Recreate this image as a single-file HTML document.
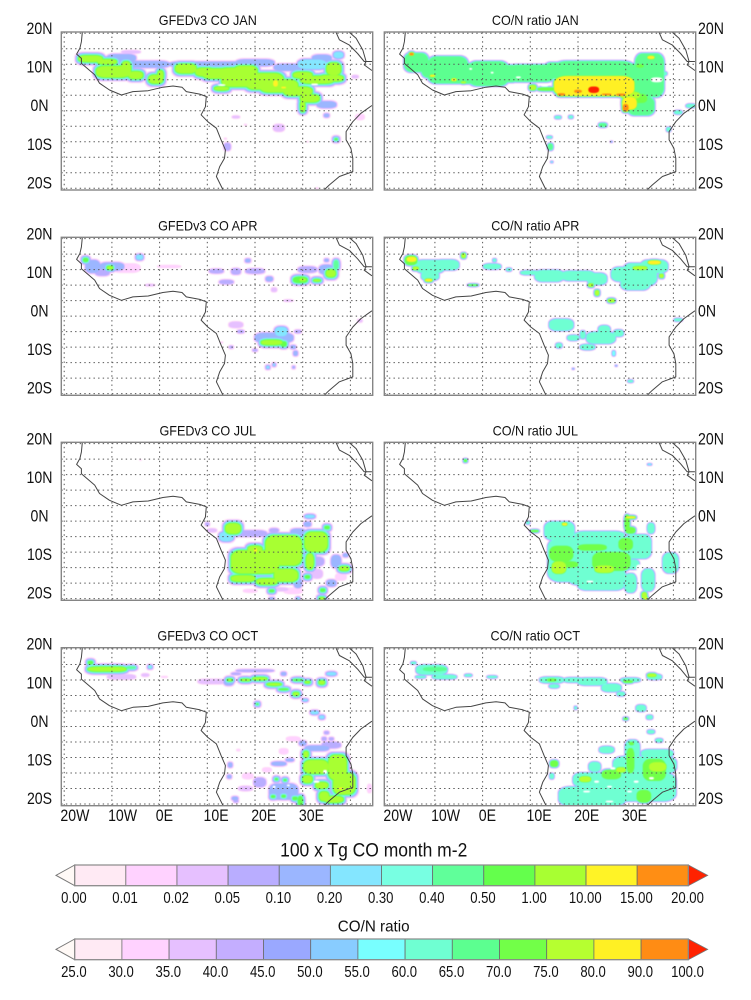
<!DOCTYPE html>
<html lang="en">
<head>
<meta charset="utf-8">
<title>GFEDv3 CO and CO/N ratio over Africa</title>
<style>
html,body{margin:0;padding:0;background:#fff;width:751px;height:1000px;overflow:hidden}
svg{display:block;filter:blur(0.35px)}
text{font-family:"Liberation Sans",sans-serif;fill:#111}
</style>
</head>
<body>
<svg id="chart" xmlns="http://www.w3.org/2000/svg" width="751" height="1000" viewBox="0 0 751 1000"></svg>
<script>
// ---- colour-scale data ----
const coLevels = [0,0.01,0.02,0.05,0.1,0.2,0.3,0.4,0.5,1,10,15,20];
const ratioLevels = [25,30,35,40,45,50,55,60,65,70,75,80,90,100];
const coLabels = ["0.00","0.01","0.02","0.05","0.10","0.20","0.30","0.40","0.50","1.00","10.00","15.00","20.00"];
const ratioLabels = ["25.0","30.0","35.0","40.0","45.0","50.0","55.0","60.0","65.0","70.0","75.0","80.0","90.0","100.0"];
const coColors = ["#ffeaf4","#ffd2ff","#e6c0ff","#b9adff","#9bb6ff","#84e6ff","#78ffe2","#60ff9a","#64ff4c","#a8ff32","#fff326","#ff8e14","#ff2200"];
const ratioColors = ["#ffeaf4","#ffd2ff","#e6c0ff","#c4aeff","#9aa8ff","#88ccff","#78ffff","#6fffd2","#5cff90","#72ff48","#b6ff30","#fff024","#ff8c14","#ff2200"];

// ---- axis data ----
const gridLons = [-20,-10,0,10,20,30,40];
const gridLats = [20,15,10,5,0,-5,-10,-15,-20,-25,-30];
const latTickLabels = ["20N","10N","0N","10S","20S"];
const lonTickLabels = ["20W","10W","0E","10E","20E","30E"];
const lonTickValues = [-20,-10,0,10,20,30];

// ---- coastlines [lon, lat] ----
const westCoast = [[-16.2,20.3],[-16.4,17.3],[-16.7,15.2],[-17.4,13.3],[-16.4,11.9],[-16.4,10.3],[-15.2,8.7],[-13.6,6.6],[-12.6,3.9],[-10.5,1.7],[-8,0.1],[-5.6,1.2],[-2.4,1.5],[0.7,2.6],[2.8,3],[4.7,2.6],[5.6,1.2],[8.4,0.4],[9.8,-0.4],[9.6,-3.7],[8.7,-6.3],[10.1,-8.5],[11.9,-10.6],[12.9,-14.4],[13.8,-17.6],[13.6,-20.3],[12.6,-23],[11.9,-26.2],[13.3,-30.5]];
const eastCoast = [[44.5,-3.3],[42.2,-5.8],[40.5,-8.5],[39.1,-11.7],[39.1,-14.4],[40.1,-17.1],[40.5,-20.3],[40.5,-24.6],[37.7,-26.2],[35.6,-28.9],[34.5,-30.5]];
const redSeaWest = [[37,20.3],[37.7,17.9],[39.8,16.2],[41.5,13.5],[42.9,10.9],[44.5,10.9]];
const redSeaEast = [[39.8,20.3],[41.2,18.4],[42.6,14.6],[43.3,10.9],[42.9,9.8],[44.5,8]];

// ---- fields: plume patches [lon, lat, lonExtent, latExtent, value] ----
const coJan = [[-14.5,11.8,2.5,1,5],[-11,10.8,2,0.8,1.5],[-9.8,7.6,3.5,1.8,5],[-7,8.5,1,2.4,5],[-5,6.5,1.5,1.2,5],[-0.8,5.2,1.5,1.4,5],[0.2,6.5,0.6,1.5,5],[5.5,8.6,2.2,1.5,5],[9.5,7.5,2,1.3,5],[12,7,3,1.6,5],[15.5,7,3,1.8,5],[17,5,4,2.2,5],[18,7.5,2.5,2,5],[22,4.5,4,2.6,5],[25,3,4,2,5],[29,1.3,3,1.4,5],[31.5,-1,2,1.2,5],[30,-3.5,0.5,1.8,5],[33,5,3.5,1.2,5],[36,5.5,2.5,1,5],[36.5,8.5,1.5,2,5],[30,6.5,2,1,5],[13,2.2,1.5,0.6,5],[24.3,3.8,0.5,1,12],[26,2.5,0.5,0.3,12],[-3,10,5,1,0.15],[-8,12,3,1.2,0.12],[-6,14,2,0.5,0.03],[10,10,8,0.8,0.15],[20,10.5,4,1,0.15],[27,9,3,1,0.12],[32,10,3,1.5,0.2],[37.5,13,1,1,0.2],[34,12,2,1,0.15],[35,-3,2,1,0.12],[35,-6.5,0.5,0.5,0.1],[38,7,0.5,0.5,0.03],[41,6,0.7,0.5,0.02],[16,-7,0.8,0.4,0.02],[18,-9.5,0.3,0.3,0.01],[25,-10.5,1.2,1.2,0.02],[14.2,-16.6,0.7,1.2,0.05],[13.8,-14,0.3,0.3,0.01],[37,-14.2,0.3,0.3,0.5],[42,-7,1,1,0.01],[31,-15,0.2,0.2,0.01],[33,-30,0.3,0.3,0.01],[13,3.3,0.8,0.3,-1],[32.5,3.5,0.7,0.3,-1]];
const ratioJan = [[-13.9,10.6,2.5,3,67],[-7.3,8.2,4.2,4.3,67],[1.2,7,4.2,3.9,67],[10.2,7.1,4.9,2.7,67],[23.4,8,8.4,3,67],[35,6.5,3,7,67],[33.2,-3.4,2.8,3,67],[36,12,1.2,1.5,67],[-10.8,8.5,2,2.8,67],[-3,7,2,3.2,67],[5.5,7,2,2.7,67],[15,8,2,2.5,67],[30.5,7.5,2.5,2.6,67],[32,2,1.8,2.8,67],[23.4,3,8.4,3.2,85],[31,0,2,1.2,78],[33,-1,1.5,1.5,72],[30.8,-2.6,1.5,2,85],[30,-4,0.6,1.2,95],[29,0.2,1,0.4,95],[23.3,1.8,1.1,1,105],[20,1.3,0.8,0.5,95],[16.5,0.3,0.8,0.4,95],[26,0.3,1,0.3,95],[10.5,2.5,0.7,0.8,75],[13.5,2,2,0.5,72],[-14.9,13.3,0.4,0.4,92],[-10.5,6.3,0.5,0.3,82],[-6,5,0.5,0.4,82],[-4,4.2,0.5,0.3,76],[35.3,12.2,0.7,0.5,80],[33,9.5,0.8,0.6,72],[43.7,-3.4,1,0.5,62],[41,-5.5,0.8,0.5,60],[15.8,-7.1,0.6,0.4,62],[18.5,-7,0.4,0.4,62],[25.2,-9.6,0.8,0.6,67],[14.2,-16.6,0.5,1,67],[14,-13.5,0.5,0.3,60],[39,-11,0.4,0.6,60],[34.5,-3,0.4,0.4,67],[38,7,0.6,0.5,60],[14.5,-21.5,0.2,0.2,55],[27,-15,0.2,0.2,50],[36.5,5,1.2,0.8,20],[-2.5,8.5,0.3,0.3,20],[2,7.3,0.3,0.3,20],[7.5,5.8,0.5,0.3,20],[13,3.2,0.8,0.4,20]];
const coApr = [[-15.5,13.1,0.5,0.6,0.6],[-14,11,1.5,2,0.15],[-10.4,10.6,0.6,0.5,5],[-10,11,2.5,1.2,0.1],[-12,9,1.5,1,0.07],[-4.2,14,0.7,0.8,0.25],[-7,10.5,3,1.5,0.015],[-2,5,1,0.3,0.02],[2,11,2.5,0.5,0.015],[11.9,9.5,1.5,0.7,0.07],[14,6,1.5,0.7,0.05],[16,9.4,1,1,0.05],[20,9.5,2,0.8,0.05],[18.5,12.9,0.5,0.5,0.15],[23,7,0.7,0.7,0.1],[24,3.5,0.6,0.7,0.03],[27,0,1,0.3,0.02],[29.5,6.7,1.5,1,0.6],[30,6.7,0.7,0.5,2],[33,6.5,0.7,0.3,1],[31,10,2,1,0.05],[35.9,8.8,1,1.2,5],[37,11.5,0.5,1.5,0.4],[35,10,1.5,1.5,0.1],[35,13,0.4,0.4,0.1],[16,-7.8,1.5,1,0.03],[17,-10,0.7,0.5,0.07],[23.5,-13.5,2.2,0.8,5],[26,-14,0.6,0.8,0.6],[25.5,-10,1.3,1.5,0.2],[24,-12,4,1.5,0.1],[29,-10,0.7,0.5,0.05],[28,-15,0.5,0.5,0.1],[15,-15,0.4,0.4,0.07],[20,-16,0.5,0.4,0.07],[28.5,-17,0.4,0.7,0.1],[22.7,-21.5,0.3,0.4,0.2],[24,-20.7,0.2,0.3,0.2],[28.1,-21.5,0.2,0.3,0.1],[42,-6.5,0.5,0.5,0.02],[13,-13.5,0.3,0.3,0.01]];
const ratioApr = [[-15,13,1.3,1.5,72],[-14.9,13.3,1,0.8,85],[-11,11,3,2,62],[-7.5,11.5,2.5,1.6,62],[-11,8,1.8,1.4,62],[-11.3,6.6,0.7,0.4,82],[-14,10.4,0.6,0.5,75],[-4,14.5,0.4,0.7,78],[-2,5,1,0.2,72],[2,11,1.8,0.8,62],[5.5,10,0.5,0.4,62],[2.5,13,0.3,0.4,60],[10,9,2,0.6,62],[14,8,3,1.8,62],[20,8,3.5,1.5,62],[24,7,2,1.8,62],[22.7,5,0.5,0.5,78],[24,2.5,0.4,0.8,78],[27,0,0.7,0.5,78],[30,8.5,3,2.2,62],[33,8.5,3.5,3.5,62],[32,5.5,3,2,62],[36,11,2.8,2,62],[36,12.3,1.3,0.6,82],[33,10.5,1.5,0.6,75],[37.5,8,0.4,0.6,75],[41,-6.2,0.8,0.4,62],[16.5,-7.8,2.5,1.8,62],[19,-12,1.2,0.8,62],[21,-11,0.5,1.2,62],[24.8,-12,3,1.8,62],[25.5,-9.5,1.2,1.4,62],[28.5,-10.5,1,1,62],[16,-14.5,0.6,0.7,62],[22,-15,1.5,0.8,62],[27.5,-17,0.3,0.8,55],[31,-26,0.5,0.3,60],[19,-22,0.2,0.2,50],[28,-21,0.2,0.2,50]];
const coJul = [[15.4,-7.4,1.6,1.7,5],[26,-14.5,3.8,4.8,5],[20,-18.2,5,3.7,5],[20,-14,1.5,1,5],[20.1,-14.4,0.3,0.7,12],[17.5,-23.5,2.5,1,5],[22.5,-24.5,2.2,1,5],[26.5,-22.5,2.5,2,5],[32.8,-11.7,2.4,3.2,5],[31.5,-18,0.8,2.5,5],[38.7,-20.3,1,0.7,5],[31,-23,0.5,0.5,0.6],[34.2,-27.3,0.5,0.5,0.6],[34,-30,0.5,0.4,5],[23.5,-27.5,0.5,0.4,0.5],[35.1,-7.1,0.5,0.5,0.6],[31.5,-3.5,1,0.5,0.2],[31,-6,0.7,0.7,0.1],[14,-10,1.5,1.5,0.2],[22,-21,3,1.5,0.1],[19,-9,3.5,1,0.05],[24,-8,1,0.7,0.07],[29,-8.5,1.5,1,0.1],[33,-18,1.5,1.5,0.07],[37,-18,1,2,0.1],[39,-16,0.5,0.5,0.1],[33,-22,1.2,1.5,0.03],[36,-25,1,1,0.1],[29,-25,0.8,1.5,0.1],[25,-27,2,0.6,0.03],[10,-6,0.4,0.5,0.05],[11,-8,1,0.6,0.02],[29,-30,0.3,0.3,0.2],[23.5,-30,0.5,0.3,0.1],[28,-27.5,2,1,0.015],[38,-23,1.2,1.2,0.012],[19,-27.5,1.5,0.6,0.012],[-4,14.7,0.2,0.2,0.012]];
const ratioJul = [[16.1,-8.1,3.1,2.9,62],[24.5,-9.7,5.2,1.3,62],[21.7,-17.5,8,7,62],[21.7,-12.5,7,2.2,62],[24,-23,6,2.5,62],[24.8,-25.5,4.8,1.7,62],[32.5,-13.2,2.8,3.8,62],[31,-25,1.2,3,62],[34.7,-24,1.3,3.5,62],[39.4,-18.5,1.6,3.2,62],[35.3,-7.3,0.7,1.6,62],[31.5,-19,1.3,1.5,62],[16.5,-15.5,2.5,2.5,72],[16,-20,1.5,2,78],[27,-18,4,3,72],[25.5,-20.5,2,1.2,78],[30,-12.5,1.5,2,72],[23,-13.5,3,1,72],[18,-19,2,1,72],[17.2,-6,0.5,0.4,85],[30.3,-5.5,0.5,2.5,72],[31,-3.8,1,0.3,85],[33.9,-29,0.5,1,78],[34.3,-30,0.3,0.3,85],[31,-8,1,1,72],[10.9,-8.2,0.8,0.3,72],[9.5,-5.5,0.3,0.4,62],[-3.6,14.5,0.3,0.4,72],[35,13.3,0.4,0.2,55],[33,-20,0.8,1,20],[22.5,-24.5,0.7,0.3,20]];
const coOct = [[-14.5,15.6,0.5,0.5,0.6],[-11,13.5,4,0.7,5],[-6,14,1,0.4,0.4],[-8,11,3,0.8,0.02],[-3,11.6,0.8,0.5,0.02],[-2,14.2,0.3,0.3,0.3],[1,11,0.7,0.3,0.01],[14.7,10,0.5,0.3,5],[14.5,9.5,1,1.2,0.15],[18,10,1,0.3,5],[21,10.4,1.5,0.4,5],[24,8.6,1.5,0.4,5],[26,7,1,0.3,0.5],[28.6,5.5,0.6,0.5,5],[30.5,3.5,0.5,0.3,0.2],[29,10,1,0.3,0.6],[31,9.3,0.5,0.3,5],[34,9.2,0.6,0.6,5],[36,12,1,0.5,0.2],[20,13,4,0.4,0.05],[26,12,0.5,0.5,0.1],[16,12,1,0.4,0.05],[11,9.5,3,0.8,0.03],[32.5,-0.5,0.8,0.5,0.2],[34,-2,0.5,0.5,0.2],[20.5,2.2,0.2,0.2,0.5],[35,-7,0.5,0.5,0.05],[32.8,-18,2.6,2.2,5],[30.7,-14,0.5,1,5],[37.3,-18.2,1.9,4,5],[38.7,-23.5,2.3,3.4,5],[38,-25,0.5,0.3,12],[31,-22,1,1.2,5],[34,-24,1.3,1,5],[34.5,-27.5,1,1.5,5],[36.5,-28.5,2,1,5],[29.5,-29,0.5,1.5,0.5],[33,-12,2.5,0.8,0.1],[30,-10.4,0.7,0.7,0.1],[27.3,-15.8,0.8,0.4,0.1],[36,-11,2,1,0.07],[25,-17,1.5,0.6,0.1],[21,-23,1.3,1.5,0.07],[26,-26,3,2.5,0.1],[24.5,-22,0.3,0.3,0.5],[26.3,-22.3,0.3,0.3,0.5],[23.8,-27.6,0.4,0.4,0.6],[28.4,-28.2,0.5,0.5,0.6],[26,-27.5,0.4,0.4,0.6],[14.8,-17.4,0.4,0.7,0.15],[14.6,-21.2,0.4,0.5,0.15],[15.8,-28.2,0.6,0.5,0.1],[16,-29,0.5,0.5,0.08],[34.5,-9,0.5,0.6,0.05],[36,-9,0.5,0.5,0.05],[18.5,-21,1.2,1,0.012],[18,-25,1.5,0.8,0.02],[22.5,-19,1,0.8,0.012],[26,-13,1,1,0.015],[16.5,-12.6,0.4,0.4,0.015],[28,-9,1.5,0.8,0.015],[44,-25,0.5,1.5,0.01],[32.9,-22.8,0.6,0.4,-1],[34.7,-19.6,0.4,0.6,-1],[27,-24,0.3,0.3,-1],[24,-24.5,0.3,0.4,-1]];
const ratioOct = [[-10.7,13.3,3.2,1.5,62],[-10,13.5,2.5,0.7,67],[-8,11,2.5,0.6,62],[-13,11,1,0.3,62],[-14.5,15.5,0.5,0.3,60],[-3,11.5,0.7,0.3,60],[2,11,1,0.3,60],[14.5,10,2.5,0.9,62],[14.5,10,1,0.5,72],[15,8,1,0.5,60],[19,10,2,0.7,62],[23,9.5,3,1.1,62],[27,7.5,2,1.2,62],[29,5.5,0.8,0.6,62],[31,10,2,0.6,62],[30.5,9.5,1,0.4,72],[36,11,1.5,0.8,62],[35.5,11.5,0.9,0.5,75],[33.2,0.9,1,1,62],[35,-2,0.6,0.6,62],[30,-2.5,0.4,0.3,72],[19.5,1,0.2,0.4,62],[35.3,-6.7,0.7,0.5,62],[37,-9.5,0.7,0.5,62],[31.4,-12.6,1.5,3.2,62],[34,-17.4,6.6,2.7,62],[36.6,-13.7,3.3,1.2,62],[22.8,-22.2,3.8,2.2,62],[32.5,-24.5,8,4.5,62],[23,-27.5,7,3,62],[26,-12.5,1.5,1,62],[23.5,-18,1.2,1.5,62],[15,-17,0.8,1,72],[14.5,-21,0.4,0.8,62],[21.5,-22,1.2,0.9,75],[27,-20.5,2,1.5,72],[31,-16,0.8,4,72],[36,-19,2.4,3.5,72],[36.7,-18,1.8,1.5,78],[33.8,-27.5,1.5,2,72],[31.2,-10.5,0.5,0.5,72],[29,-19,1,0.8,78],[21.8,-26,0.7,0.3,20],[26.6,-24.4,0.5,0.3,20],[32.2,-22.8,0.5,0.4,20],[35.4,-21.7,0.5,0.4,20],[27.3,-18.5,0.5,0.4,20],[23.9,-22.8,0.5,0.4,20],[30.8,-26,0.5,0.3,20],[26.6,-29.2,0.8,0.3,20]];

const panelTitles = ["GFEDv3 CO JAN","CO/N ratio JAN","GFEDv3 CO APR","CO/N ratio APR","GFEDv3 CO JUL","CO/N ratio JUL","GFEDv3 CO OCT","CO/N ratio OCT"];
const panelFields = [coJan,ratioJan,coApr,ratioApr,coJul,ratioJul,coOct,ratioOct];
const coBarTitle = "100 x Tg CO month m-2";
const ratioBarTitle = "CO/N ratio";

// ---- layout ----
const NS = "http://www.w3.org/2000/svg";
const svg = document.getElementById("chart");
const colLeft = [61.3,384.3];
const rowTop = [32,237.3,442.3,647.7];
const PANEL_W = 311.4, PANEL_H = 158;
const LON_PX = 4.77, LAT_PX = 3.1;
function xScale(left, lon){ return left + 2.9 + (lon + 20) * LON_PX; }
function yScale(top, lat){ return top + 1.3 + (20 - lat) * LAT_PX; }
function mk(tag, attrs, parent){
  const el = document.createElementNS(NS, tag);
  for (const k in attrs) el.setAttribute(k, attrs[k]);
  (parent || svg).appendChild(el);
  return el;
}
function label(str, x, y, size, anchor, squeeze, parent){
  const t = mk("text", {x:x, y:y, "font-size":size, "text-anchor":anchor}, parent);
  t.textContent = str;
  const len = t.getComputedTextLength();
  if (len > 0) {
    t.setAttribute("textLength", (len * squeeze).toFixed(1));
    t.setAttribute("lengthAdjust", "spacingAndGlyphs");
  }
  return t;
}
function binOf(levels, v){
  let k = -1;
  for (let i = 0; i < levels.length; i++) if (v >= levels[i]) k = i;
  return k;
}
function coastPath(left, top, pts){
  return pts.map((p, i) => (i ? "L" : "M") + xScale(left, p[0]).toFixed(1) + " " + yScale(top, p[1]).toFixed(1)).join("");
}
// a rounded patch centred on a lon/lat with half-extents in pixels
function patchAttrs(left, top, b, hw, hh, fill){
  return {
    x: (xScale(left, b[0]) - hw).toFixed(2),
    y: (yScale(top, b[1]) - hh).toFixed(2),
    width: (2 * hw).toFixed(2),
    height: (2 * hh).toFixed(2),
    rx: Math.min(hw * 0.8, 5 + hw * 0.2).toFixed(2),
    ry: Math.min(hh * 0.8, 5 + hh * 0.2).toFixed(2),
    fill: fill
  };
}

// ---- panels ----
panelFields.forEach((field, idx) => {
  const col = idx % 2, row = Math.floor(idx / 2);
  const left = colLeft[col], top = rowTop[row];
  const isCO = col === 0;
  const levels = isCO ? coLevels : ratioLevels;
  const colors = isCO ? coColors : ratioColors;
  const haloStep = isCO ? 0.5 : 0.25;
  const g = mk("g", {});
  
  

  const title = label(panelTitles[idx], left + (isCO ? 146.5 : 151), top - 7, 14, "middle", 0.9, g);
  
  

  const clip = mk("clipPath", {id: "clip" + idx}, g);
  mk("rect", {x:left, y:top, width:PANEL_W, height:PANEL_H}, clip);
  const plot = mk("g", {"clip-path": "url(#clip" + idx + ")"}, g);
  
  
  const fieldGroup = mk("g", {style: "filter:blur(0.6px)"}, plot);
  
  

  // draw contour layers from low to high so each level nests inside the one below
  for (let lvl = 0; lvl < levels.length; lvl++) {
    field.forEach(b => {
      const k = binOf(levels, b[4]);
      if (k < lvl) return;
      const hw = b[2] * LON_PX + (k - lvl) * haloStep;
      const hh = b[3] * LAT_PX + (k - lvl) * haloStep;
      const e = mk("rect", patchAttrs(left, top, b, hw, hh, colors[lvl]), fieldGroup);
      
      
    });
  }
  // values below the lowest level punch white gaps
  field.forEach(b => {
    if (binOf(levels, b[4]) >= 0) return;
    const e = mk("rect", patchAttrs(left, top, b, b[2] * LON_PX, b[3] * LAT_PX, "#fff"), fieldGroup);
    
    
  });

  // grid
  gridLons.forEach(lon => {
    const l = mk("line", {x1:xScale(left,lon), x2:xScale(left,lon), y1:top, y2:top+PANEL_H, stroke:"#555", "stroke-width":1, "stroke-dasharray":"1.4 3.2"}, plot);
    
    
  });
  gridLats.forEach(lat => {
    const l = mk("line", {x1:left, x2:left+PANEL_W, y1:yScale(top,lat), y2:yScale(top,lat), stroke:"#555", "stroke-width":1, "stroke-dasharray":"1.4 3.2"}, plot);
    
    
  });

  // coast
  [westCoast, eastCoast, redSeaWest, redSeaEast].forEach(pts => {
    const c = mk("path", {d: coastPath(left, top, pts), fill:"none", stroke:"#444", "stroke-width":1, "stroke-linejoin":"round"}, plot);
    
    
  });

  // frame
  const frame = mk("rect", {x:left, y:top, width:PANEL_W, height:PANEL_H, fill:"none", stroke:"#858585", "stroke-width":1.4}, g);
  
  

  // latitude labels
  latTickLabels.forEach((s, i) => {
    const cy = top - 4 + i * 38.6;
    const t = isCO ? label(s, 39.5, cy + 6, 17, "middle", 0.83, g)
                   : label(s, 698, cy + 6, 17, "start", 0.83, g);
    
    
  });

  // longitude labels on bottom row
  if (row === 3) {
    lonTickValues.forEach((lon, i) => {
      const t = label(lonTickLabels[i], xScale(left, lon) - 3.8, top + PANEL_H + 15.5, 17, "start", 0.83, g);
      
      
    });
  }
});

// ---- colour bars ----
function colorBar(name, levels, labels, colors, barTop, titleStr, titleY, titleSize, titleSqueeze){
  const g = mk("g", {});
  
  
  const x0 = 74.7, x1 = 688.3, h = 20.7;
  const n = levels.length - 1;
  const w = (x1 - x0) / n;
  const mid = barTop + h / 2;
  const lowTri = mk("path", {d:`M${x0} ${barTop}L56 ${mid}L${x0} ${barTop+h}Z`, fill:"#fff9f6", stroke:"#777", "stroke-width":1}, g);
  
  
  const highTri = mk("path", {d:`M${x1} ${barTop}L707.7 ${mid}L${x1} ${barTop+h}Z`, fill:colors[n], stroke:"#777", "stroke-width":0.8}, g);
  
  
  for (let i = 0; i < n; i++) {
    const c = mk("rect", {x:x0 + i * w, y:barTop, width:w, height:h, fill:colors[i], stroke:"#6b6b6b", "stroke-width":0.8}, g);
    
    
  }
  const edge = mk("rect", {x:x0, y:barTop, width:x1-x0, height:h, fill:"none", stroke:"#8a8a8a", "stroke-width":1.2}, g);
  
  
  labels.forEach((s, i) => {
    const t = label(s, x0 + i * w - 0.8, barTop + h + 17.5, 16, "middle", 0.82, g);
    
    
  });
  const tt = label(titleStr, 373.7, titleY, titleSize, "middle", titleSqueeze, g);
  
  
}
colorBar("co-colorbar", coLevels, coLabels, coColors, 865, coBarTitle, 856.5, 19, 0.92);
colorBar("ratio-colorbar", ratioLevels, ratioLabels, ratioColors, 939, ratioBarTitle, 931.5, 16, 0.95);
</script>
</body>
</html>
